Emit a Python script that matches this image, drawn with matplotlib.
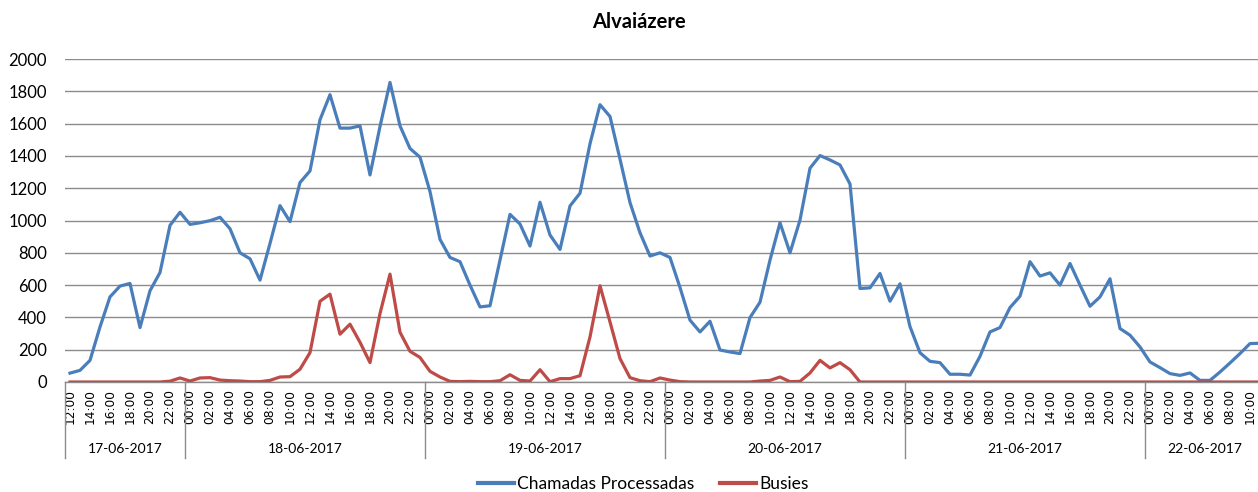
import matplotlib
matplotlib.use("Agg")
import matplotlib.pyplot as plt
import matplotlib.transforms as mtransforms

title = "Alvaiázere"
series_names = ["Chamadas Processadas", "Busies"]
days = ["17-06-2017", "18-06-2017", "19-06-2017", "20-06-2017", "21-06-2017", "22-06-2017"]
day_hours = [list(range(12, 24)), list(range(24)), list(range(24)), list(range(24)), list(range(24)), list(range(12))]

chamadas = [55, 72, 134, 341, 527, 594, 610, 337, 565, 678, 970, 1051,
            976, 986, 999, 1020, 949, 800, 763, 631, 858, 1092, 993, 1235,
            1307, 1624, 1779, 1572, 1572, 1586, 1282, 1582, 1855, 1586, 1446, 1392,
            1179, 883, 771, 745, 600, 465, 472, 755, 1038, 978, 842, 1113,
            910, 821, 1090, 1169, 1475, 1717, 1644, 1380, 1111, 924, 780, 800,
            771, 585, 383, 310, 376, 198, 186, 176, 399, 494, 755, 986,
            800, 1003, 1324, 1402, 1375, 1344, 1226, 579, 583, 672, 500, 608,
            343, 181, 128, 120, 48, 48, 43, 159, 310, 337, 461, 531,
            745, 656, 676, 600, 734, 600, 469, 527, 639, 331, 290, 217,
            124, 89, 52, 41, 56, 10, 10, 62, 118, 176, 238, 240]

busies = [0, 0, 0, 0, 0, 0, 0, 0, 0, 0, 5, 25,
          6, 25, 27, 12, 8, 6, 2, 2, 10, 31, 33, 79,
          182, 500, 544, 296, 358, 246, 120, 424, 668, 308, 190, 152,
          66, 31, 4, 2, 4, 2, 2, 8, 45, 10, 6, 76,
          2, 21, 21, 39, 279, 596, 372, 145, 27, 8, 2, 25,
          12, 2, 0, 0, 0, 0, 0, 0, 0, 6, 10, 31,
          2, 4, 56, 134, 87, 120, 76, 0, 0, 0, 0, 0,
          0, 0, 0, 0, 0, 0, 0, 0, 0, 0, 0, 0,
          0, 0, 0, 0, 0, 0, 0, 0, 0, 0, 0, 0,
          0, 0, 0, 0, 0, 0, 0, 0, 0, 0, 0, 0]

yticks = [0, 200, 400, 600, 800, 1000, 1200, 1400, 1600, 1800, 2000]

BLUE = "#4A7EBB"
RED = "#BE4B48"
GRID = "#8C8C8C"

W, H = 1258, 492
fig = plt.figure(figsize=(W / 100, H / 100), dpi=100)
# axes: left at 65px, 0 at y=382px, 2000 at y=59px; width 1200 px (extends past right edge)
ax = fig.add_axes([65 / W, 1 - 382 / H, 1200 / W, (382 - 59) / H])

hour_labels = []
for hrs in day_hours:
    hour_labels += ["%02d:00" % h for h in hrs]
n = len(hour_labels)
x = list(range(n))

ax.plot(x, chamadas, color=BLUE, lw=2.3, solid_joinstyle="round", label=series_names[0], zorder=3)
ax.plot(x, busies, color=RED, lw=2.3, solid_joinstyle="round", label=series_names[1], zorder=3)

ax.set_xlim(-0.5, n - 0.5)
ax.set_ylim(0, 2000)
ax.set_yticks(yticks)
ax.set_yticklabels([str(v) for v in yticks], fontsize=12, family="Lato")
ax.yaxis.grid(True, color=GRID, lw=1)
ax.set_axisbelow(True)
for s in ["left", "right", "top"]:
    ax.spines[s].set_visible(False)
ax.spines["bottom"].set_color(GRID)
ax.spines["bottom"].set_linewidth(1)
ax.tick_params(axis="y", length=0, pad=13)

ax.set_xticks(x[::2])
ax.set_xticklabels(hour_labels[::2], rotation=90, fontsize=8.8, family="DejaVu Sans")
ax.tick_params(axis="x", length=0, pad=5)

# day separators and labels
trans = mtransforms.blended_transform_factory(ax.transData, ax.transAxes)
ybot = -(458 - 382) / (382 - 59)
start = -0.5
bounds = [start]
for hrs in day_hours:
    start += len(hrs)
    bounds.append(start)
for b in bounds[:-1]:
    ax.plot([b, b], [0, ybot], transform=trans, color=GRID, lw=1, clip_on=False)
ylab = -(449 - 382) / (382 - 59)
for i, d in enumerate(days):
    ax.text((bounds[i] + bounds[i + 1]) / 2, ylab, d, transform=trans, ha="center", va="center",
            fontsize=10, family="Lato")

fig.text(639 / W, 1 - 22 / H, title, ha="center", va="center", fontsize=14.5, fontweight="bold", family="Lato")

leg = fig.legend(loc="center", bbox_to_anchor=(643 / W, 1 - 484 / H), ncol=2, frameon=False,
                 prop={"family": "Lato", "size": 12.5}, handlelength=2.1, handletextpad=0.15,
                 columnspacing=1.5, borderpad=0)
for l in leg.get_lines():
    l.set_linewidth(3)

fig.savefig("out.png", dpi=100)
